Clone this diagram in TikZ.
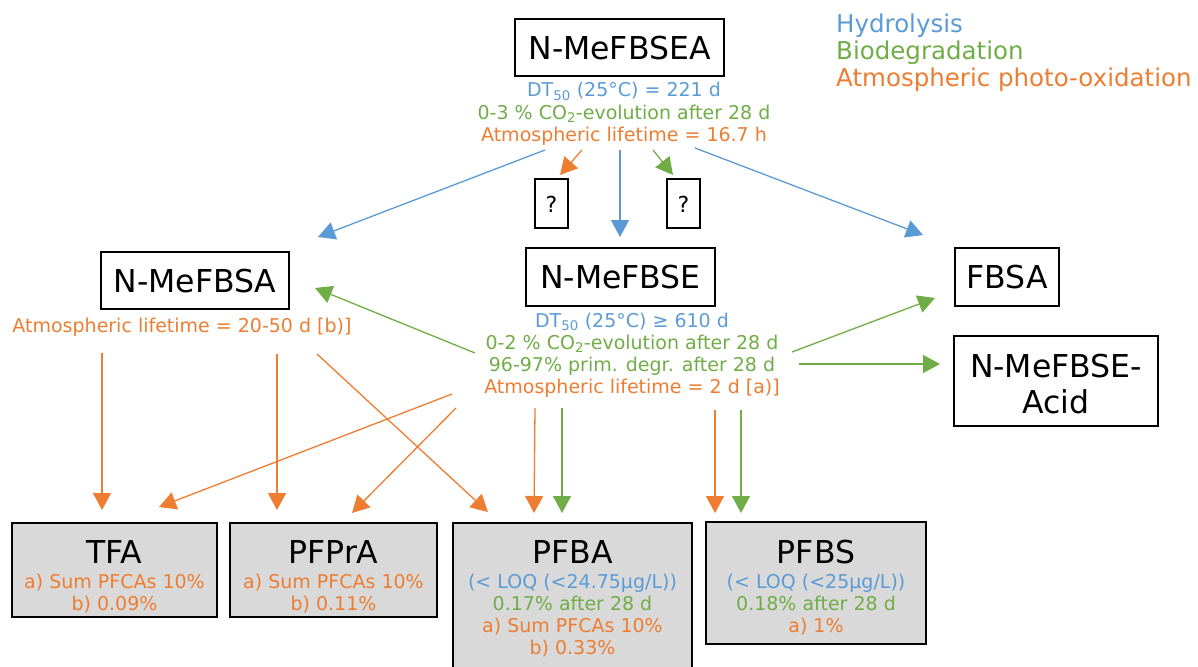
\documentclass[tikz,border=0pt]{standalone}
\usepackage{fontspec}
\setmainfont{DejaVu Sans}
\usetikzlibrary{arrows.meta}
\definecolor{hblue}{HTML}{5B9BD5}
\definecolor{bgreen}{HTML}{70AD47}
\definecolor{aorange}{HTML}{ED7D31}
\definecolor{boxgray}{HTML}{D9D9D9}
\begin{document}
\begin{tikzpicture}[x=1pt,y=-1pt,
  titletext/.style={font=\fontsize{31.5}{36}\selectfont, inner sep=0pt, anchor=base},
  smalltext/.style={font=\fontsize{19}{22}\selectfont, inner sep=0pt, anchor=base, align=center},
  qtext/.style={font=\fontsize{22}{26}\selectfont, inner sep=0pt, anchor=base},
  legendtext/.style={font=\fontsize{24.5}{27}\selectfont, inner sep=0pt, anchor=base west},
  cbox/.style={draw=black, line width=2.7pt, inner sep=0pt},
  gbox/.style={cbox, fill=boxgray},
  arr/.style={line width=1.3pt, -{Triangle[length=17pt,width=18pt]}},
  barr/.style={arr, hblue},
  garr/.style={arr, bgreen},
  oarr/.style={arr, aorange}]
\useasboundingbox (0,0) rectangle (1198,666);

% ---------- boxes ----------
\node[cbox, minimum width=209pt, minimum height=57pt] (A) at (619.5,47.5) {};
\node[titletext] (At) at (619.5,60) {N-MeFBSEA};
\node[cbox, minimum width=188pt, minimum height=57pt] (SA) at (195,280.5) {};
\node[titletext] (SAt) at (195,292) {N-MeFBSA};
\node[cbox, minimum width=189pt, minimum height=58pt] (SE) at (620.5,277) {};
\node[titletext] (SEt) at (620.5,288) {N-MeFBSE};
\node[cbox, minimum width=104pt, minimum height=58pt] (FB) at (1007,277) {};
\node[titletext] (FBt) at (1007,288) {FBSA};
\node[cbox, minimum width=204pt, minimum height=90pt] (AC) at (1056,381) {};
\node[titletext] (ACt1) at (1056,377) {N-MeFBSE-};
\node[titletext] (ACt2) at (1056,413) {Acid};
\node[cbox, line width=2.2pt, minimum width=33pt, minimum height=49pt] (Q1) at (551.5,203.5) {};
\node[qtext] (Q1t) at (551.5,212) {?};
\node[cbox, line width=2.2pt, minimum width=33pt, minimum height=49pt] (Q2) at (683.5,203.5) {};
\node[qtext] (Q2t) at (683.5,212) {?};

\node[gbox, minimum width=205pt, minimum height=94pt] (TFA) at (114.5,570) {};
\node[titletext] (TFAt) at (114.5,563) {TFA};
\node[smalltext] (TFAi) at (114.5,610) {\color{aorange}a) Sum PFCAs 10\%\\\color{aorange}b) 0.09\%};
\node[gbox, minimum width=207pt, minimum height=94pt] (PR) at (333.5,570) {};
\node[titletext] (PRt) at (333.5,563) {PFPrA};
\node[smalltext] (PRi) at (333.5,610) {\color{aorange}a) Sum PFCAs 10\%\\\color{aorange}b) 0.11\%};
\node[gbox, minimum width=239pt, minimum height=170pt] (BA) at (572.5,608) {};
\node[titletext] (BAt) at (572.5,563) {PFBA};
\node[smalltext] (BAi) at (572.5,654) {\color{hblue}(< LOQ (<24.75µg/L))\\\color{bgreen}0.17\% after 28 d\\\color{aorange}a) Sum PFCAs 10\%\\\color{aorange}b) 0.33\%};
\node[gbox, minimum width=220pt, minimum height=122pt] (BS) at (816,583) {};
\node[titletext] (BSt) at (816,563) {PFBS};
\node[smalltext] (BSi) at (816,632) {\color{hblue}(< LOQ (<25µg/L))\\\color{bgreen}0.18\% after 28 d\\\color{aorange}a) 1\%};

% ---------- annotations ----------
\node[smalltext, font=\fontsize{19}{22.5}\selectfont] (annA) at (624,141.5) {\color{hblue}DT\textsubscript{50} (25°C) = 221 d\hspace{18pt}\\\color{bgreen}0-3 \% CO\textsubscript{2}-evolution after 28 d\\\color{aorange}Atmospheric lifetime = 16.7 h};
\node[smalltext] (annSA) at (182,332) {\color{aorange}Atmospheric lifetime = 20-50 d [b)]};
\node[smalltext] (annSE) at (632,393) {\color{hblue}DT\textsubscript{50} (25°C) ≥ 610 d\hspace{26pt}\\\color{bgreen}0-2 \% CO\textsubscript{2}-evolution after 28 d\\\color{bgreen}96-97\% prim. degr. after 28 d\\\color{aorange}Atmospheric lifetime = 2 d [a)]};

% ---------- legend ----------
\node[legendtext, text=hblue] (L1) at (836,33) {Hydrolysis};
\node[legendtext, text=bgreen] (L2) at (836,60) {Biodegradation};
\node[legendtext, text=aorange] (L3) at (836,87) {Atmospheric photo-oxidation};

% ---------- connector end points ----------
\coordinate (aSA) at (545,150);   \coordinate (tSA) at (318,237);
\coordinate (aQ1) at (582,150);   \coordinate (tQ1) at (560,175);
\coordinate (aSE) at (620,150);   \coordinate (tSE) at (620,237);
\coordinate (aQ2) at (653,150);   \coordinate (tQ2) at (673,175);
\coordinate (aFB) at (695,148);   \coordinate (tFB) at (923,235);
\coordinate (eSA) at (475,353);   \coordinate (tSA2) at (315,288);
\coordinate (eFB) at (792,352);   \coordinate (tFB2) at (935,298);
\coordinate (eAC) at (799,364);   \coordinate (tAC) at (940,364);
\coordinate (sTFA) at (102,353);  \coordinate (tTFA) at (102,510);
\coordinate (sPR) at (277,354);   \coordinate (tPR) at (277,510);
\coordinate (sBA) at (317,354);   \coordinate (tBA) at (488,512);
\coordinate (eTFA) at (452,394);  \coordinate (tTFA2) at (159,507);
\coordinate (ePR) at (456,408);   \coordinate (tPR2) at (352,513);
\coordinate (eBAo) at (535,408);  \coordinate (tBAo) at (534,513);
\coordinate (eBAg) at (562,408);  \coordinate (tBAg) at (562,513);
\coordinate (eBSo) at (715,410);  \coordinate (tBSo) at (715,513);
\coordinate (eBSg) at (741,410);  \coordinate (tBSg) at (741,513);

% ---------- connectors ----------
\draw[barr] (aSA) -- (tSA);
\draw[oarr] (aQ1) -- (tQ1);
\draw[barr] (aSE) -- (tSE);
\draw[garr] (aQ2) -- (tQ2);
\draw[barr] (aFB) -- (tFB);
\draw[garr] (eSA) -- (tSA2);
\draw[garr] (eFB) -- (tFB2);
\draw[garr] (eAC) -- (tAC);
\draw[oarr] (sTFA) -- (tTFA);
\draw[oarr] (sPR) -- (tPR);
\draw[oarr] (sBA) -- (tBA);
\draw[oarr] (eTFA) -- (tTFA2);
\draw[oarr] (ePR) -- (tPR2);
\draw[oarr] (eBAo) -- (tBAo);
\draw[garr] (eBAg) -- (tBAg);
\draw[oarr] (eBSo) -- (tBSo);
\draw[garr] (eBSg) -- (tBSg);
\end{tikzpicture}
\end{document}
